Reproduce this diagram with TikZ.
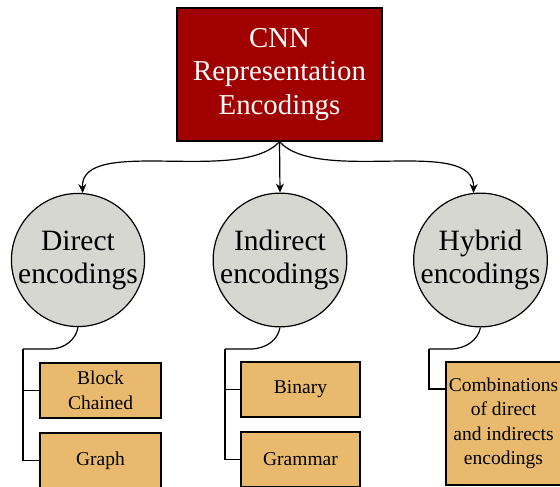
\documentclass[tikz,border=0pt]{standalone}
\usepackage{fontspec}
\setmainfont{Liberation Serif}
\usetikzlibrary{arrows.meta}
\definecolor{mainred}{HTML}{A00000}
\definecolor{circgray}{HTML}{D6D7D1}
\definecolor{boxtan}{HTML}{E9BA6E}
\tikzset{
  mainbox/.style={draw=black, line width=1.4pt, fill=mainred, text=white,
    minimum width=205pt, minimum height=133pt, align=center, inner sep=0pt,
    font=\fontsize{28.8}{33.5}\selectfont},
  enccirc/.style={draw=black, line width=1.2pt, fill=circgray, circle,
    minimum size=130pt, align=center, inner sep=0pt,
    font=\fontsize{29.5}{33}\selectfont},
  subbox/.style={draw=black, line width=1.2pt, fill=boxtan, align=center,
    inner sep=0pt, minimum width=121pt, minimum height=55pt,
    font=\fontsize{19.5}{24.5}\selectfont},
  conn/.style={draw=black, line width=1.2pt},
  arr/.style={conn, -{Stealth[length=9pt,width=8pt]}}
}
\begin{document}
\begin{tikzpicture}[x=1pt,y=-1pt]
\useasboundingbox (0,0) rectangle (560,487);
\node[mainbox] (main) at (279.5,74.5) {CNN\\Representation\\Encodings};
\node[enccirc] (direct) at (78,260) {Direct\\encodings};
\node[enccirc] (indirect) at (280,260) {Indirect\\encodings};
\node[enccirc] (hybrid) at (480.5,260) {Hybrid\\encodings};

\draw[arr] (main.south) .. controls (240,185) and (80,135) .. (direct.86);
\draw[arr] (main.south) -- (indirect.north);
\draw[arr] (main.south) .. controls (319,185) and (475,135) .. (hybrid.96);

\node[subbox] (block) at (100.5,390.5) {Block\\Chained};
\node[subbox] (graph) at (100.5,460.5) {Graph};
\node[subbox, minimum width=119pt] (binary) at (300.5,389.5) {Binary};
\node[subbox, minimum width=119pt] (grammar) at (300.5,459.5) {Grammar};
\node[subbox, minimum width=115pt, minimum height=123pt] (comb) at (503.5,423.5)
  {Combinations\\of direct\\and indirects\\encodings};

\coordinate (dl) at (23,349);
\coordinate (il) at (225,349);
\coordinate (hl) at (429,349);

\draw[conn] (direct.south) .. controls (76,340) and (64,349) .. (50,349) -- (dl);
\draw[conn] (dl) |- (block.west);
\draw[conn] (dl) |- (graph.west);

\draw[conn] (indirect.south) .. controls (278,340) and (266,349) .. (250,349) -- (il);
\draw[conn] (il) |- (binary.west);
\draw[conn] (il) |- (grammar.west);

\draw[conn] (hybrid.south) .. controls (478,340) and (466,349) .. (450,349) -- (hl);
\draw[conn] (hl) |- ([yshift=34.5pt]comb.west);
\end{tikzpicture}
\end{document}
